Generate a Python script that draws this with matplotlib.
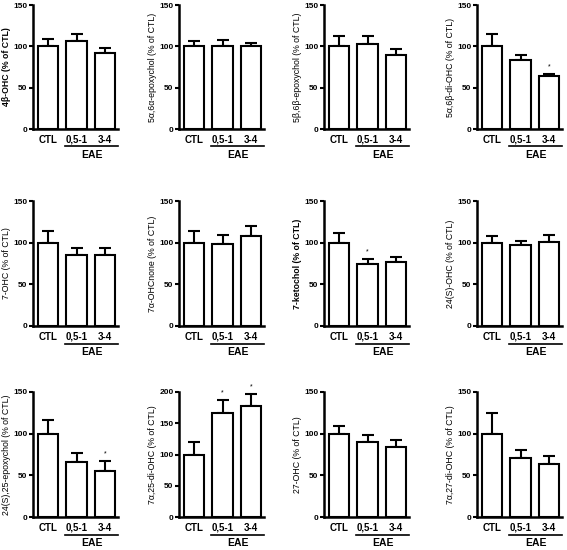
import numpy as np
import matplotlib
matplotlib.use('Agg')
import matplotlib.pyplot as plt
import matplotlib.transforms as mtrans

plt.rcParams['font.family'] = ['Liberation Sans', 'DejaVu Sans']

groups = ['CTL', '0,5-1', '3-4']

labels = ['4β-OHC (% of CTL)', '5α,6α-epoxychol (% of CTL)', '5β,6β-epoxychol (% of CTL)', '5α,6β-di-OHC (% of CTL)',
          '7-OHC (% of CTL)', '7α-OHCnone (% of CTL)', '7-ketochol (% of CTL)', '24(S)-OHC (% of CTL)',
          '24(S),25-epoxychol (% of CTL)', '7α,25-di-OHC (% of CTL)', '27-OHC (% of CTL)', '7α,27-di-OHC (% of CTL)']
bold_label = [True, False, False, False, False, False, True, False, False, False, False, False]

means = [[100, 107, 92], [100, 101, 101], [100, 103, 90], [100, 83, 64],
         [100, 85, 85], [100, 98, 108], [100, 75, 77], [100, 97, 101],
         [100, 66, 55], [100, 167, 177], [100, 90, 84], [100, 71, 64]]
sems = [[9, 8, 6], [6, 7, 3], [13, 10, 7], [15, 7, 3],
        [14, 8, 8], [14, 11, 12], [11, 5, 6], [8, 5, 8],
        [17, 11, 12], [20, 20, 20], [9, 9, 9], [25, 10, 9]]
stars = [[], [], [], [2], [], [], [1], [], [2], [1, 2], [], []]
ymax = [150] * 9 + [200, 150, 150]

W, H = 567, 550
fig = plt.figure(figsize=(W / 100, H / 100), dpi=100)

col_left = [33, 179, 324, 477]
row_top = [5, 201, 392]
row_bot = [129, 326, 517]
aw = 85

for i in range(12):
    r, c = divmod(i, 4)
    ax = fig.add_axes([col_left[c] / W, 1 - row_bot[r] / H, aw / W, (row_bot[r] - row_top[r]) / H])
    x = np.arange(3)
    m = np.array(means[i])
    e = np.array(sems[i])
    ax.bar(x, m, width=0.7, color='white', edgecolor='black', linewidth=1.5, zorder=2)
    ax.errorbar(x, m, yerr=[np.zeros(3), e], fmt='none', ecolor='black', elinewidth=1.5,
                capsize=4, capthick=1.5, zorder=1)
    for s in stars[i]:
        ax.text(x[s], m[s] + e[s] + ymax[i] * 0.03, '*', ha='center', va='bottom', fontsize=5)
    ax.set_xlim(-0.52, 2.45)
    ax.set_ylim(0, ymax[i])
    ax.set_yticks(np.arange(0, ymax[i] + 1, 50))
    ax.set_xticks(x)
    ax.set_xticklabels(groups, fontsize=7, fontweight='bold')
    ax.tick_params(axis='y', labelsize=6, width=1.5, length=3, pad=1)
    ax.tick_params(axis='x', length=0, pad=4)
    for lab in ax.get_yticklabels():
        lab.set_fontweight('bold')
    for sp in ['top', 'right']:
        ax.spines[sp].set_visible(False)
    for sp in ['left', 'bottom']:
        ax.spines[sp].set_linewidth(1.8)
    ax.set_ylabel(labels[i], fontsize=6.3, fontweight='bold' if bold_label[i] else 'normal', labelpad=1.5)
    tr = mtrans.blended_transform_factory(ax.transData, ax.transAxes)
    ax.plot([0.6, 2.45], [-0.14, -0.14], color='black', lw=1.2, transform=tr, clip_on=False)
    ax.text(1.55, -0.17, 'EAE', transform=tr, ha='center', va='top', fontsize=7.5, fontweight='bold')

fig.savefig('out.png', dpi=100)
